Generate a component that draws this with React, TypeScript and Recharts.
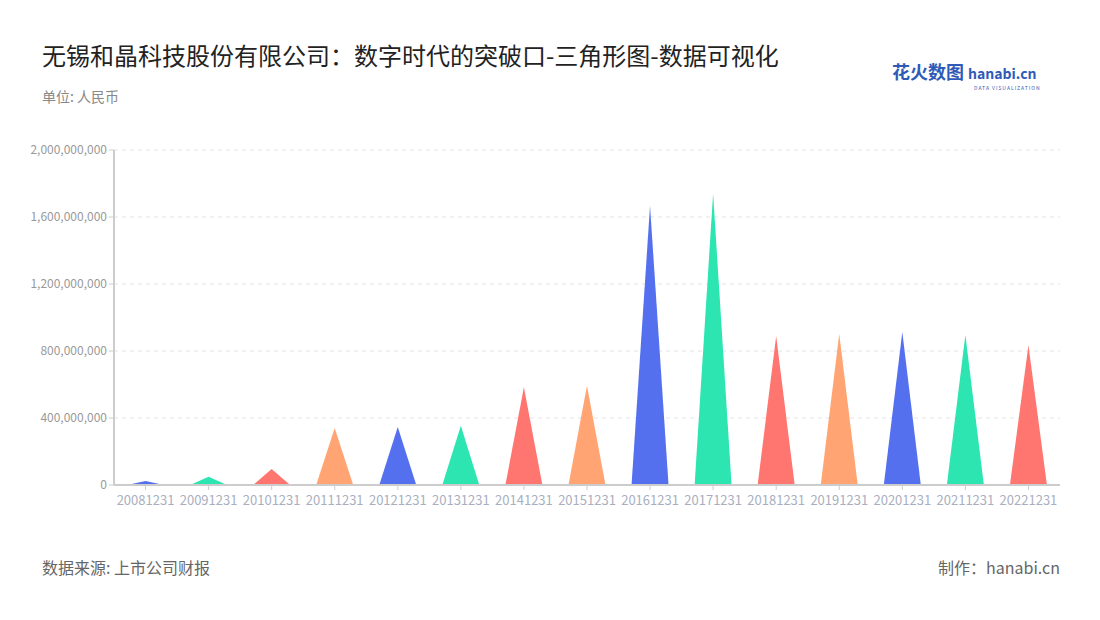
import { BarChart, Bar, XAxis, YAxis, CartesianGrid, Cell } from "recharts";

const years = [
  "20081231", "20091231", "20101231", "20111231", "20121231",
  "20131231", "20141231", "20151231", "20161231", "20171231",
  "20181231", "20191231", "20201231", "20211231", "20221231",
];

const revenue = [
  24000000, 50000000, 95000000, 340000000, 346000000,
  354000000, 583000000, 593000000, 1666000000, 1741000000,
  890000000, 901000000, 913000000, 896000000, 834000000,
];

const yTicks = [0, 400000000, 800000000, 1200000000, 1600000000, 2000000000];

const palette = ["#5470ee", "#2de5b0", "#ff756f", "#ffa472"];

const data = years.map((year, i) => ({ year, value: revenue[i] }));

const FONT = '"Noto Sans CJK SC", "Noto Sans", sans-serif';

function Triangle(props: any) {
  const { x, y, width, height, fill } = props;
  if (!height || height <= 0) return null;
  const d = `M${x},${y + height} L${x + width / 2},${y} L${x + width},${y + height} Z`;
  return <path d={d} fill={fill} />;
}

export default function App() {
  return (
    <div
      style={{
        position: "absolute",
        left: 0,
        top: 0,
        width: 1100,
        height: 620,
        background: "#fff",
        fontFamily: FONT,
      }}
    >
      <div
        style={{
          position: "absolute",
          left: 42,
          top: 38,
          fontSize: 24,
          color: "#222",
          whiteSpace: "nowrap",
          lineHeight: "34px",
        }}
      >
        无锡和晶科技股份有限公司：数字时代的突破口-三角形图-数据可视化
      </div>
      <div style={{ position: "absolute", left: 42, top: 86, fontSize: 14, color: "#888" }}>
        单位: 人民币
      </div>
      <div
        style={{
          position: "absolute",
          left: 892,
          top: 60,
          fontSize: 18,
          fontWeight: 700,
          color: "#2f5bb7",
          whiteSpace: "nowrap",
          lineHeight: "22px",
        }}
      >
        花火数图
        <span style={{ fontSize: 14, marginLeft: 4 }}>hanabi.cn</span>
        <div style={{ position: "absolute", left: 82, top: 17, fontSize: 5, fontWeight: 400, letterSpacing: 1 }}>
          DATA VISUALIZATION
        </div>
      </div>

      <BarChart
        width={1100}
        height={620}
        data={data}
        margin={{ top: 150, right: 40, left: 0, bottom: 105 }}
        style={{ position: "absolute", left: 0, top: 0 }}
      >
        <CartesianGrid vertical={false} strokeDasharray="4 4" stroke="#e3e3e3" />
        <XAxis
          dataKey="year"
          interval={0}
          height={30}
          tick={{ fontSize: 13, fill: "#a9afc0", fontFamily: FONT, dy: 4 }}
          tickLine={{ stroke: "#ccc" }}
          tickSize={5}
          axisLine={{ stroke: "#ccc", strokeWidth: 2 }}
        />
        <YAxis
          width={114}
          domain={[0, 2000000000]}
          ticks={yTicks}
          interval={0}
          tickFormatter={(v: number) => v.toLocaleString("en-US")}
          tick={{ fontSize: 12, fill: "#999", fontFamily: FONT }}
          tickLine={{ stroke: "#ccc" }}
          tickSize={5}
          axisLine={{ stroke: "#ccc", strokeWidth: 2 }}
        />
        <Bar dataKey="value" barSize={37} shape={<Triangle />} isAnimationActive={false}>
          {data.map((d, i) => (
            <Cell key={d.year} fill={palette[i % palette.length]} />
          ))}
        </Bar>
      </BarChart>

      <div style={{ position: "absolute", left: 42, top: 555, fontSize: 16, color: "#666" }}>
        数据来源: 上市公司财报
      </div>
      <div style={{ position: "absolute", right: 40, top: 555, fontSize: 16, color: "#666" }}>
        制作：hanabi.cn
      </div>
    </div>
  );
}
